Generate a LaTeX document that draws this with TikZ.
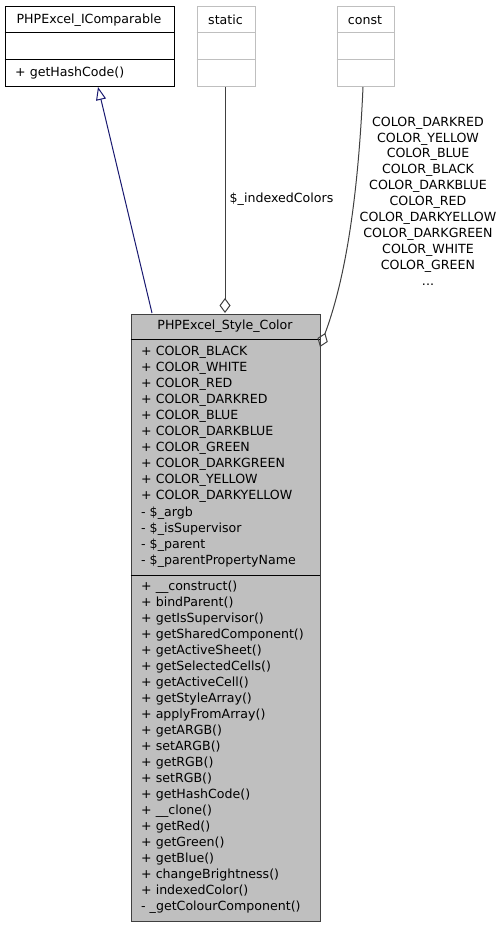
\documentclass[tikz,border=0pt]{standalone}
\usepackage{fontspec}
\setmainfont{DejaVu Sans}
\usetikzlibrary{arrows.meta}
\definecolor{boxgray}{HTML}{BFBFBF}
\definecolor{edgegray}{HTML}{404040}
\definecolor{lightedge}{HTML}{BFBFBF}
\definecolor{inhblue}{HTML}{191970}
\begin{document}
\begin{tikzpicture}[x=1pt,y=-1pt,
  lbl/.style={font=\fontsize{12.6}{15.9}\selectfont, inner sep=0pt},
  mem/.style={lbl, anchor=west},
  umlbox/.style={rectangle, inner sep=0pt, anchor=north west, line width=1pt},
  sep/.style={line width=1pt}]
\useasboundingbox (0,0) rectangle (503,928);
% PHPExcel_IComparable
\node[umlbox, draw=black, minimum width=169pt, minimum height=80pt] (ic) at (4.5,6.5) {};
\draw[sep, black] (4.5,33) -- (173.5,33) (4.5,60) -- (173.5,60);
\node[lbl] (ictitle) at (89,20) {PHPExcel\_IComparable};
\node[mem] (icm1) at (15,73) {+ getHashCode()};
% static
\node[umlbox, draw=lightedge, minimum width=58pt, minimum height=80pt] (st) at (196.5,6.5) {};
\draw[sep, lightedge] (196.5,33) -- (254.5,33) (196.5,60) -- (254.5,60);
\node[lbl] (sttitle) at (225.5,20) {static};
% const
\node[umlbox, draw=lightedge, minimum width=57pt, minimum height=80pt] (co) at (336.5,6.5) {};
\draw[sep, lightedge] (336.5,33) -- (393.5,33) (336.5,60) -- (393.5,60);
\node[lbl] (cotitle) at (365,20) {const};
% main class
\node[umlbox, draw=edgegray, fill=boxgray, minimum width=189.5pt, minimum height=607pt] (main) at (130.5,313.5) {};
\draw[sep, black] (130.5,339.5) -- (320,339.5) (130.5,575) -- (320,575);
\node[lbl] (maintitle) at (225,326.5) {PHPExcel\_Style\_Color};
\foreach \t [count=\i from 0] in {+ COLOR\_BLACK, + COLOR\_WHITE, + COLOR\_RED, + COLOR\_DARKRED, + COLOR\_BLUE, + COLOR\_DARKBLUE, + COLOR\_GREEN, + COLOR\_DARKGREEN, + COLOR\_YELLOW, + COLOR\_DARKYELLOW, - \$\_argb, - \$\_isSupervisor, - \$\_parent, - \$\_parentPropertyName}
  \node[mem] (attr\i) at (141,352.7+16*\i) {\t};
\foreach \t [count=\i from 0] in {+ \_\_construct(), + bindParent(), + getIsSupervisor(), + getSharedComponent(), + getActiveSheet(), + getSelectedCells(), + getActiveCell(), + getStyleArray(), + applyFromArray(), + getARGB(), + setARGB(), + getRGB(), + setRGB(), + getHashCode(), + \_\_clone(), + getRed(), + getGreen(), + getBlue(), + changeBrightness(), + indexedColor(), - \_getColourComponent()}
  \node[mem] (meth\i) at (141,586.7+16*\i) {\t};
% connectors
\coordinate (inhS) at (152,313);
\coordinate (inhE) at (98,87);
\draw[inhblue, line width=1pt, -{Triangle[open, length=13pt, width=10pt]}] (inhS) -- (inhE);
\coordinate (stS) at (225,87);
\coordinate (stE) at (225,313);
\draw[edgegray, line width=1pt, -{Diamond[open, length=15pt, width=11pt]}] (stS) -- (stE);
\node[lbl, anchor=west] (stlabel) at (229.5,199) {\$\_indexedColors};
\coordinate (coS) at (363,87);
\coordinate (coE) at (320,347);
\draw[edgegray, line width=1pt, -{Diamond[open, length=15pt, width=11pt]}] (coS) .. controls (358,200) and (345,280) .. (coE);
\node[lbl, align=center] (colabel) at (428,201) {COLOR\_DARKRED\\COLOR\_YELLOW\\COLOR\_BLUE\\COLOR\_BLACK\\COLOR\_DARKBLUE\\COLOR\_RED\\COLOR\_DARKYELLOW\\COLOR\_DARKGREEN\\COLOR\_WHITE\\COLOR\_GREEN\\...};
\end{tikzpicture}
\end{document}
